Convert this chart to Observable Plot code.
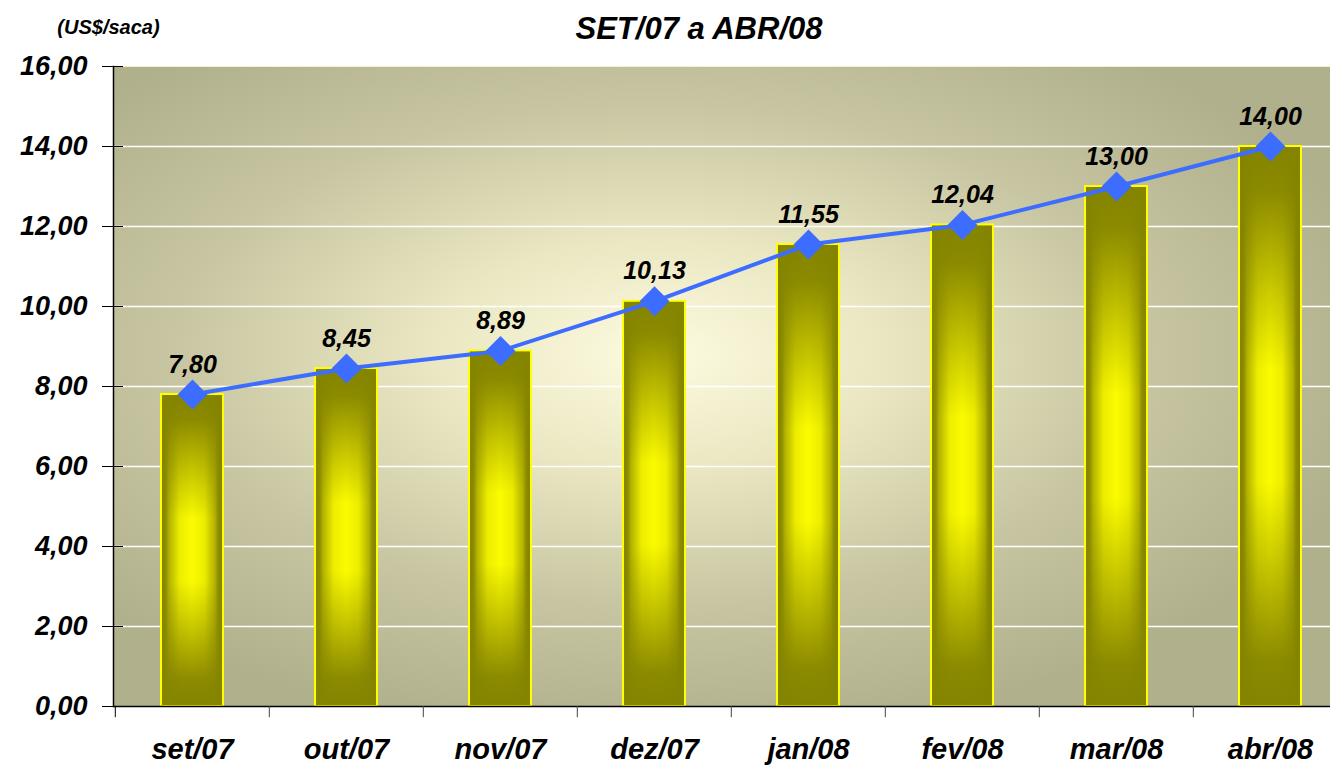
<!DOCTYPE html>
<html><head><meta charset="utf-8">
<script src="https://cdn.jsdelivr.net/npm/d3@7"></script>
<script src="https://cdn.jsdelivr.net/npm/@observablehq/plot@0.6"></script>
<style>
html,body{margin:0;padding:0;background:#fff;overflow:hidden;}
#chart svg{max-width:none !important;}
</style></head><body><div id="chart"></div>
<script>
const months = ["set/07","out/07","nov/07","dez/07","jan/08","fev/08","mar/08","abr/08"];
const prices = [7.80, 8.45, 8.89, 10.13, 11.55, 12.04, 13.00, 14.00];
const yTicks = [0, 2, 4, 6, 8, 10, 12, 14, 16];
const gridTicks = [2, 4, 6, 8, 10, 12, 14];
const title = "SET/07 a ABR/08";
const unit = "(US$/saca)";

const data = months.map((m, i) => ({month: m, price: prices[i]}));
const fmt = d => d.toFixed(2).replace(".", ",");
const font = "Arial, 'Liberation Sans', sans-serif";

function defs() {
  const g = d3.create("svg:defs");
  const bg = g.append("radialGradient").attr("id", "bg")
    .attr("cx", 0.44).attr("cy", 0.45).attr("r", 0.6).attr("fx", 0.44).attr("fy", 0.45);
  [[0, "#fdfbe0"], [0.3, "#eae7c2"], [0.65, "#c8c6a2"], [1, "#b1b08c"]]
    .forEach(([o, c]) => bg.append("stop").attr("offset", o).attr("stop-color", c));
  const h = g.append("linearGradient").attr("id", "barH").attr("x1", 0).attr("x2", 1).attr("y1", 0).attr("y2", 0);
  [[0, "#7f7e00"], [0.08, "#8f8e00"], [0.13, "#b5b400"], [0.3, "#f0f000"], [0.5, "#ffff00"], [0.7, "#f0f000"], [0.87, "#b5b400"], [0.92, "#8f8e00"], [1, "#7f7e00"]]
    .forEach(([o, c]) => h.append("stop").attr("offset", o).attr("stop-color", c));
  const v = g.append("linearGradient").attr("id", "barV").attr("x1", 0).attr("x2", 0).attr("y1", 0).attr("y2", 1);
  [[0, 1], [0.08, 0.95], [0.25, 0.45], [0.4, 0.03], [0.6, 0.03], [0.75, 0.45], [0.92, 0.95], [1, 1]]
    .forEach(([o, a]) => v.append("stop").attr("offset", o).attr("stop-color", "#858400").attr("stop-opacity", a));
  return g.node();
}

const chart = Plot.plot({
  width: 1348, height: 768,
  marginLeft: 113, marginRight: 0, marginTop: 66, marginBottom: 62,
  style: {fontFamily: font, fontWeight: "bold", fontStyle: "italic", background: "white", color: "black", maxWidth: "none"},
  x: {domain: months, paddingInner: 0.6, paddingOuter: 0.3, label: null},
  y: {domain: [0, 16], label: null},
  marks: [
    defs,
    Plot.frame({fill: "url(#bg)", stroke: "#f4f1c8"}),
    Plot.ruleY(gridTicks, {stroke: "white", strokeWidth: 1.5}),
    Plot.barY(data, {x: "month", y: "price", fill: "url(#barH)"}),
    Plot.barY(data, {x: "month", y: "price", fill: "url(#barV)", stroke: "#ffff00", strokeWidth: 2}),
    Plot.ruleY([0], {stroke: "black", strokeWidth: 1.5}),
    Plot.frame({anchor: "left", stroke: "black", strokeWidth: 1.5}),
    Plot.axisY({ticks: yTicks, tickSize: 21, dx: 10, tickFormat: () => "", stroke: "black", strokeOpacity: 1, label: null}),
    Plot.axisY({ticks: yTicks, tickSize: 0, tickPadding: 26, tickFormat: fmt, fontSize: 27, label: null}),
    Plot.ruleX(months.slice(1), {x: d => d, dx: -77.2, y1: 0, y2: -0.28, stroke: "#444"}),
    Plot.ruleX(months.slice(0, 1), {x: d => d, dx: -77.2, y1: 0, y2: -0.28, stroke: "black"}),
    Plot.axisX({tickSize: 0, tickPadding: 32, fontSize: 29, label: null}),
    Plot.line(data, {x: "month", y: "price", stroke: "#3d6dff", strokeWidth: 4}),
    Plot.dot(data, {x: "month", y: "price", symbol: "diamond2", r: 13.5, fill: "#3d6dff", stroke: "none"}),
    Plot.text(data, {x: "month", y: "price", text: d => fmt(d.price), dy: -30, fontSize: 25}),
    Plot.text([title], {frameAnchor: "top", lineAnchor: "middle", textAnchor: "middle", dx: -32, dy: -37, fontSize: 31}),
    Plot.text([unit], {frameAnchor: "top-left", lineAnchor: "middle", textAnchor: "middle", dx: -5, dy: -39, fontSize: 20})
  ]
});
document.getElementById("chart").appendChild(chart);
</script>
</body></html>
